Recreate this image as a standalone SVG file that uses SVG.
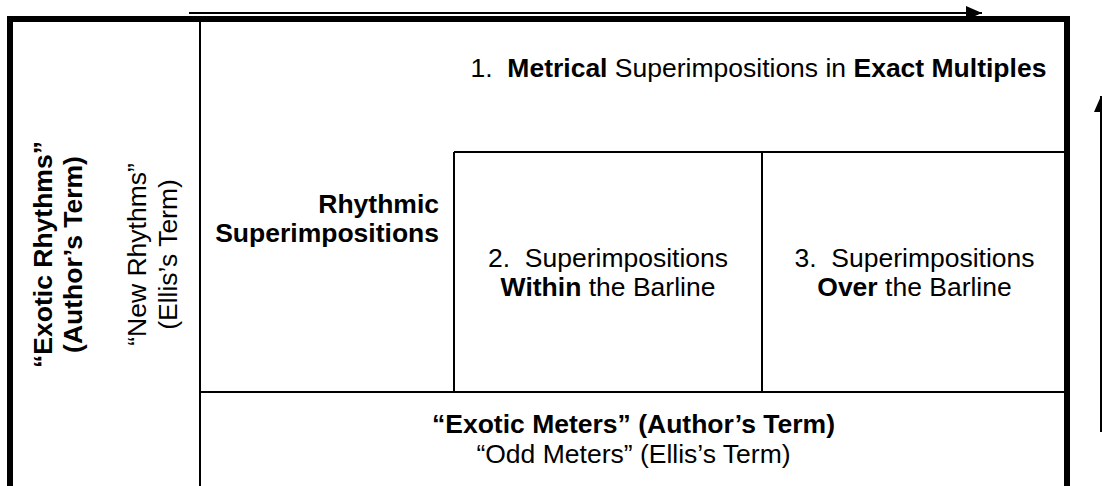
<svg xmlns="http://www.w3.org/2000/svg" width="1102" height="486" viewBox="0 0 1102 486">
<style>
text{font-family:"Liberation Sans",Arial,sans-serif;font-size:26.5px;fill:#000}
.b{font-weight:bold}
.mid{text-anchor:middle}
.end{text-anchor:end}
.grid{stroke:#000;stroke-width:2;fill:none}
.frame{stroke:#000;stroke-width:6;fill:none}
.conn{stroke:#000;stroke-width:2;fill:none}
</style>
<defs>
<marker id="ah" markerUnits="userSpaceOnUse" markerWidth="18" markerHeight="14" refX="16" refY="7" orient="auto">
<path d="M0,0 L16,7 L0,14 Z" fill="#000"/>
</marker>
</defs>
<rect width="1102" height="486" fill="#fff"/>
<g id="frame">
<rect class="frame" x="10" y="19" width="1057" height="490"/>
<line class="grid" x1="200" y1="19" x2="200" y2="486"/>
<line class="grid" x1="454" y1="152" x2="1067" y2="152"/>
<line class="grid" x1="454" y1="152" x2="454" y2="392"/>
<line class="grid" x1="762" y1="152" x2="762" y2="392"/>
<line class="grid" x1="200" y1="392" x2="1067" y2="392"/>
</g>
<g id="connectors">
<line class="conn" x1="189" y1="13" x2="982" y2="13" marker-end="url(#ah)"/>
<line class="conn" x1="1101" y1="432" x2="1101" y2="96" marker-end="url(#ah)"/>
</g>
<g id="exotic-rhythms">
<text class="b mid" transform="translate(52,254.5) rotate(-90)">“Exotic Rhythms”</text>
<text class="b mid" transform="translate(82,254.5) rotate(-90)">(Author’s Term)</text>
</g>
<g id="new-rhythms">
<text class="mid" transform="translate(146,254.5) rotate(-90)">“New Rhythms”</text>
<text class="mid" transform="translate(177,254.5) rotate(-90)">(Ellis’s Term)</text>
</g>
<g id="rhythmic-superimpositions">
<text class="b end" x="439" y="213">Rhythmic</text>
<text class="b end" x="439" y="242">Superimpositions</text>
</g>
<g id="metrical">
<text x="470.5" y="77" xml:space="preserve">1.  <tspan class="b">Metrical</tspan> Superimpositions in <tspan class="b">Exact Multiples</tspan></text>
</g>
<g id="within">
<text class="mid" x="608" y="267" xml:space="preserve">2.  Superimpositions</text>
<text class="mid" x="608" y="296"><tspan class="b">Within</tspan> the Barline</text>
</g>
<g id="over">
<text class="mid" x="914.5" y="267" xml:space="preserve">3.  Superimpositions</text>
<text class="mid" x="914.5" y="296"><tspan class="b">Over</tspan> the Barline</text>
</g>
<g id="exotic-meters">
<text class="b mid" x="633.5" y="433">“Exotic Meters” (Author’s Term)</text>
<text class="mid" x="633.5" y="463">“Odd Meters” (Ellis’s Term)</text>
</g>
</svg>
